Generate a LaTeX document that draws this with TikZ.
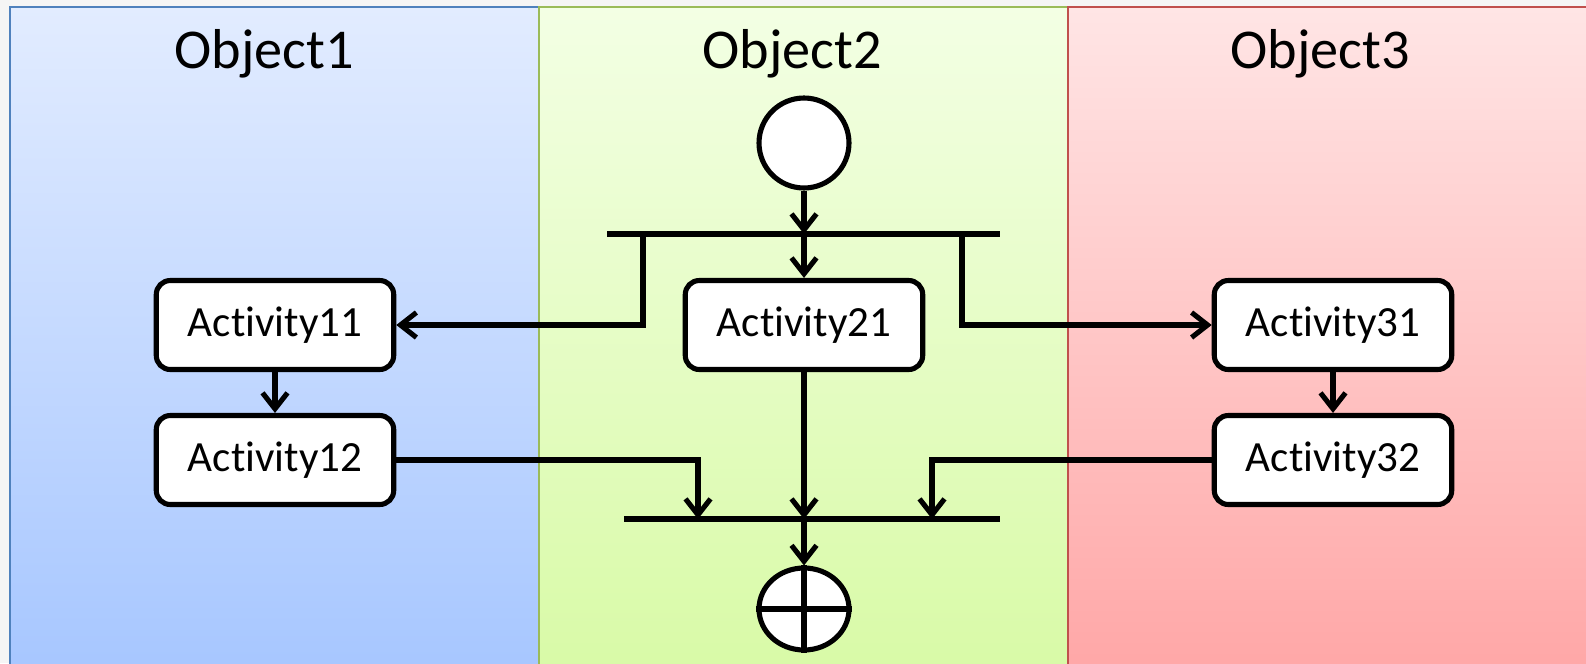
\documentclass[tikz,border=0pt]{standalone}
\usepackage{fontspec}
\setmainfont{Carlito}[Ligatures=NoCommon]
\usetikzlibrary{arrows.meta,shapes.geometric}
\definecolor{laneblue}{RGB}{79,129,189}
\definecolor{lanegreen}{RGB}{155,187,89}
\definecolor{lanered}{RGB}{192,80,77}
\definecolor{bluetop}{RGB}{226,236,255}
\definecolor{bluebot}{RGB}{166,198,255}
\definecolor{greentop}{RGB}{243,255,228}
\definecolor{greenbot}{RGB}{216,250,166}
\definecolor{redtop}{RGB}{255,229,229}
\definecolor{redbot}{RGB}{255,166,166}

\begin{document}
\begin{tikzpicture}[x=0.02cm, y=-0.02cm, line width=2.9pt,
        lane/.style={line width=1pt},
        title/.style={font=\fontsize{32}{38}\selectfont},
        activity/.style={draw, fill=white, rounded corners=0.28cm, minimum width=4.75cm, minimum height=1.78cm, font=\fontsize{24.5}{29}\selectfont},
        bar/.style={line width=3pt},
        arr/.style={-{Straight Barb[length=0.32cm, width=0.5cm]}}]
    \useasboundingbox (0, 0) rectangle (1586, 663);
    \fill[black!4] (0, 0) rectangle (1586, 663);

    % swimlanes
    \draw[lane, draw=laneblue, top color=bluetop, bottom color=bluebot] (10, 7) rectangle (539, 680);
    \draw[lane, draw=lanegreen, top color=greentop, bottom color=greenbot] (539, 7) rectangle (1068, 680);
    \draw[lane, draw=lanered, top color=redtop, bottom color=redbot] (1068, 7) rectangle (1600, 680);
    \node[title] (obj1) at (264, 54) {Object1};
    \node[title] (obj2) at (792, 54) {Object2};
    \node[title] (obj3) at (1320, 54) {Object3};

    % start and fork
    \node[circle, draw, fill=white, minimum size=1.8cm] (start) at (804, 143) {};
    \coordinate (forkL) at (607, 234);
    \coordinate (forkR) at (1000, 234);
    \coordinate (forkA) at (643, 234);
    \coordinate (forkB) at (962, 234);
    \draw[bar] (forkL) -- (forkR);
    \draw[arr] (start) -- (start |- forkL);

    % activities
    \node[activity] (a11) at (275, 325) {Activity11};
    \node[activity] (a12) at (275, 460) {Activity12};
    \node[activity] (a21) at (804, 325) {Activity21};
    \node[activity] (a31) at (1333, 325) {Activity31};
    \node[activity] (a32) at (1333, 460) {Activity32};

    \draw[arr] (a21 |- forkL) -- (a21);
    \draw[arr] (forkA) |- (a11);
    \draw[arr] (forkB) |- (a31);
    \draw[arr] (a11) -- (a12);
    \draw[arr] (a31) -- (a32);

    % join and end
    \coordinate (joinL) at (624, 519);
    \coordinate (joinR) at (1000, 519);
    \coordinate (joinA) at (698, 519);
    \coordinate (joinB) at (932, 519);
    \draw[bar] (joinL) -- (joinR);
    \draw[arr] (a12) -| (joinA);
    \draw[arr] (a32) -| (joinB);
    \draw[arr] (a21) -- (a21 |- joinL);

    \node[ellipse, draw, fill=white, minimum width=1.8cm, minimum height=1.64cm] (final) at (804, 609) {};
    \draw (final.north) -- (final.south) (final.west) -- (final.east);
    \draw[arr] (a21 |- joinL) -- (final);
\end{tikzpicture}
\end{document}
